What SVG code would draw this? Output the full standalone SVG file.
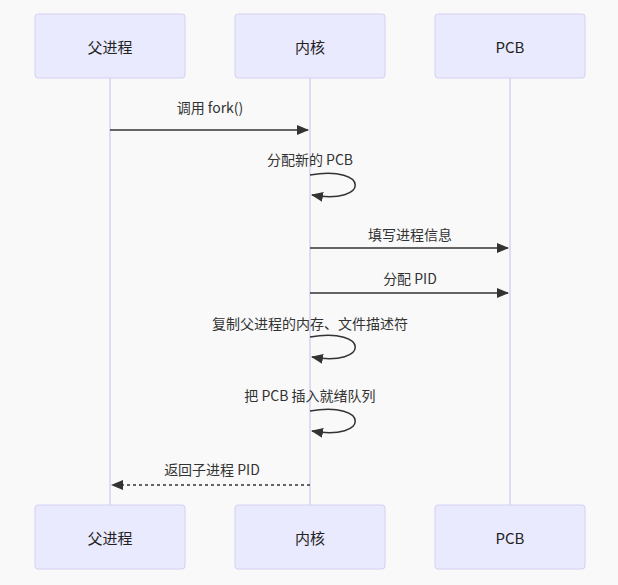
<svg xmlns="http://www.w3.org/2000/svg" width="618" height="585" viewBox="0 0 618 585">
<style>
.actor{fill:#eaeaff;stroke:#d4d0f0;stroke-width:1}
.at{font-family:"Noto Sans CJK SC","Liberation Sans",sans-serif;font-size:15px;fill:#222;text-anchor:middle;dominant-baseline:central}
.life{stroke:#d4d0f0;stroke-width:1.5}
.msg{stroke:#333;stroke-width:1.5;fill:none}
.mt{font-family:"Noto Sans CJK SC","Liberation Sans",sans-serif;font-size:14px;fill:#333;text-anchor:middle}
</style>
<defs><marker id="ah" viewBox="0 0 12 10" refX="11" refY="5" markerWidth="12" markerHeight="10" orient="auto" markerUnits="userSpaceOnUse"><path d="M0,0L12,5L0,10z" fill="#333"/></marker></defs>
<rect width="618" height="585" fill="#f9f9f9"/>
<g id="lifelines">
<line class="life" x1="110" y1="78" x2="110" y2="505"/>
<line class="life" x1="310" y1="78" x2="310" y2="505"/>
<line class="life" x1="510" y1="78" x2="510" y2="505"/>
</g>
<g id="parent"><rect class="actor" x="35" y="14" width="150" height="64" rx="3"/><text class="at" x="110" y="46">父进程</text></g>
<g id="kernel"><rect class="actor" x="235" y="14" width="150" height="64" rx="3"/><text class="at" x="310" y="46">内核</text></g>
<g id="pcb"><rect class="actor" x="435" y="14" width="150" height="64" rx="3"/><text class="at" x="510" y="46">PCB</text></g>
<g id="parent-bottom"><rect class="actor" x="35" y="505" width="150" height="64" rx="3"/><text class="at" x="110" y="537">父进程</text></g>
<g id="kernel-bottom"><rect class="actor" x="235" y="505" width="150" height="64" rx="3"/><text class="at" x="310" y="537">内核</text></g>
<g id="pcb-bottom"><rect class="actor" x="435" y="505" width="150" height="64" rx="3"/><text class="at" x="510" y="537">PCB</text></g>
<g id="connectors">
<text class="mt" x="210" y="113">调用 fork()</text>
<line class="msg" x1="110" y1="130" x2="308" y2="130" marker-end="url(#ah)"/>
<text class="mt" x="310" y="165">分配新的 PCB</text>
<path class="msg" d="M310,175 C370,165 370,205 312,195" marker-end="url(#ah)"/>
<text class="mt" x="410" y="240">填写进程信息</text>
<line class="msg" x1="310" y1="248" x2="508" y2="248" marker-end="url(#ah)"/>
<text class="mt" x="410" y="284">分配 PID</text>
<line class="msg" x1="310" y1="293" x2="508" y2="293" marker-end="url(#ah)"/>
<text class="mt" x="310" y="329">复制父进程的内存、文件描述符</text>
<path class="msg" d="M310,337 C370,327 370,367 312,357" marker-end="url(#ah)"/>
<text class="mt" x="310" y="401">把 PCB 插入就绪队列</text>
<path class="msg" d="M310,411 C370,401 370,441 312,431" marker-end="url(#ah)"/>
<text class="mt" x="212" y="475">返回子进程 PID</text>
<line class="msg" x1="310" y1="485" x2="112" y2="485" stroke-dasharray="3,3" marker-end="url(#ah)"/>
</g>
</svg>
